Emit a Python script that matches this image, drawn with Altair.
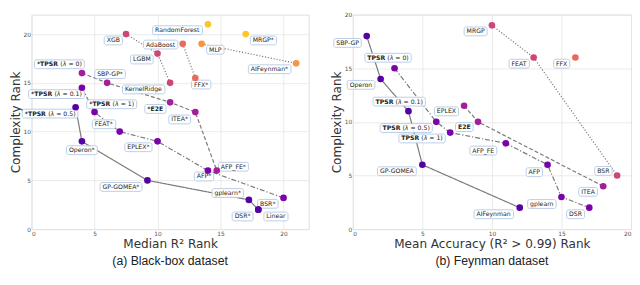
import altair as alt
import pandas as pd

# ---------------- data: (a) Black-box dataset ----------------
bb_names = ["RandomForest", "MRGP*", "XGB", "AdaBoost", "MLP", "LGBM", "AIFeynman*", "FFX*",
            "KernelRidge", "*TPSR (λ = 0)", "SBP-GP*", "*TPSR (λ = 0.1)", "*E2E",
            "*TPSR (λ = 0.5)", "*TPSR (λ = 1)", "ITEA*", "FEAT*", "EPLEX*", "Operon*", "AFP*",
            "AFP_FE*", "GP-GOMEA*", "gplearn*", "BSR*", "DSR*", "Linear"]
bb_r2_rank = [14, 17, 7.5, 12, 13.5, 10, 21, 13, 11, 4, 6, 4, 11, 3.5, 5, 13, 7, 10, 4, 14,
              14.7, 9.2, 17.25, 20, 18, 18]
bb_cx_rank = [21, 20, 20, 19, 19, 18, 17, 15.5, 15, 16, 15, 14.5, 13, 12.5, 12, 12, 10, 9, 9,
              6, 6, 5, 3, 3.2, 2, 2]
bb_front = [7, 7, 4, 5, 6, 4, 6, 5, 4, 3, 3, 2, 3, 1, 2, 3, 2, 2, 1, 2, 3, 1, 1, 2, 1, 1]

# ---------------- data: (b) Feynman dataset ----------------
fy_names = ["MRGP", "SBP-GP", "FEAT", "FFX", "TPSR (λ = 0)", "Operon", "TPSR (λ = 0.1)",
            "EPLEX", "TPSR (λ = 0.5)", "E2E", "TPSR (λ = 1)", "AFP_FE", "GP-GOMEA", "AFP",
            "BSR", "ITEA", "gplearn", "DSR", "AIFeynman"]
fy_acc_rank = [10, 1, 13, 16, 3, 2, 4, 8, 6, 9, 7, 11, 5, 14, 19, 18, 15, 17, 12]
fy_cx_rank = [19, 18, 16, 16, 15, 14, 11, 11.5, 10, 10, 9, 8, 6, 6, 5, 4, 3, 2, 2]
fy_front = [4, 1, 4, 5, 2, 1, 1, 3, 2, 3, 2, 2, 1, 2, 4, 3, 2, 2, 1]

ticks = [0, 5, 10, 15, 20]

# ---------------- styling / label layout ----------------
bb_colors = {1: "#5402a3", 2: "#7b02a8", 3: "#a41e9a", 4: "#cc4778", 5: "#e66c5c",
             6: "#f89540", 7: "#fdc527"}
fy_colors = {1: "#5402a3", 2: "#9c179e", 3: "#d5536f", 4: "#f3844b", 5: "#fdc328"}

# label box centre offsets from the point, in pixels (dx right, dy down)
bb_off = {"RandomForest": (-31, 6), "MRGP*": (18, 6.5), "XGB": (-13, 6.5),
          "AdaBoost": (-22.5, 0.7), "MLP": (14, 6), "LGBM": (-16, 6), "AIFeynman*": (-27, 6),
          "FFX*": (6, 6.7), "KernelRidge": (-27, 6.7), "*TPSR (λ = 0)": (-23, -9),
          "SBP-GP*": (3, -9), "*TPSR (λ = 0.1)": (-26, 6.5), "*E2E": (-15, 6.7),
          "*TPSR (λ = 0.5)": (-26, 6.5), "*TPSR (λ = 1)": (17.5, -8), "ITEA*": (-16, 7.5),
          "FEAT*": (-16, -7.5), "EPLEX*": (-19.5, 6), "Operon*": (0, 9), "AFP*": (-4, 6),
          "AFP_FE*": (17, -4), "GP-GOMEA*": (-27, 6.7), "gplearn*": (-21.5, -7),
          "BSR*": (-16, 6), "DSR*": (-16, 7), "Linear": (18, 7)}
fy_off = {"MRGP": (-16.6, 6.2), "SBP-GP": (-19.6, 7), "FEAT": (-14.7, 6.3), "FFX": (-14, 6.3),
          "TPSR (λ = 0)": (-6.6, -10.7), "Operon": (-20, 6), "TPSR (λ = 0.1)": (-9.4, -9.7),
          "EPLEX": (-18, 5.7), "TPSR (λ = 0.5)": (-30.7, 6.3), "E2E": (-14, 5.3),
          "TPSR (λ = 1)": (-28.7, 6), "AFP_FE": (-23, 7.4), "GP-GOMEA": (-26, 6.6),
          "AFP": (-13.5, 7.6), "BSR": (-14, -4.7), "ITEA": (-15.4, 5.7), "gplearn": (-20, 7.2),
          "DSR": (-14, 6.7), "AIFeynman": (-26.5, 6.7)}

FS = 6.3          # label font size
PAD = 2.5         # label box horizontal padding
BOXH = 9          # label box height
FONT = "DejaVu Sans"
TITLE_FS = 12.3

W_REG = {' ': 0.318, '(': 0.39, ')': 0.39, '*': 0.5, '-': 0.361, '.': 0.318, '_': 0.5,
         '=': 0.838, '0': 0.636, '1': 0.636, '2': 0.636, '5': 0.636,
         'A': 0.684, 'B': 0.686, 'D': 0.77, 'E': 0.632, 'F': 0.575, 'G': 0.775, 'I': 0.295,
         'K': 0.656, 'L': 0.557, 'M': 0.863, 'O': 0.787, 'P': 0.603, 'R': 0.695, 'S': 0.635,
         'T': 0.611, 'X': 0.685, 'a': 0.613, 'b': 0.635, 'c': 0.55, 'd': 0.635, 'e': 0.615,
         'g': 0.635, 'h': 0.634, 'i': 0.278, 'l': 0.278, 'm': 0.974, 'n': 0.634, 'o': 0.612,
         'p': 0.635, 'r': 0.411, 's': 0.521, 't': 0.392, 'u': 0.634, 'y': 0.592, 'λ': 0.6}
W_BOLD = {'*': 0.575, 'T': 0.682, 'P': 0.733, 'S': 0.72, 'R': 0.77, 'E': 0.683, '2': 0.696}


def text_w(s, weight):
    tab = W_BOLD if weight == "bold" else W_REG
    return sum(tab.get(c, W_REG.get(c, 0.62)) for c in s) * FS


def segments(label):
    segs, rest = [], label
    for b in ("*TPSR", "TPSR", "*E2E", "E2E"):
        if label.startswith(b):
            segs.append((b, "bold"))
            rest = label[len(b):]
            break
    if "λ" in rest:
        i = rest.index("λ")
        segs += [(rest[:i], "normal"), ("λ", "italic"), (rest[i + 1:], "normal")]
    elif rest:
        segs.append((rest, "normal"))
    return [s for s in segs if s[0]]


def panel(names, xs, ys, fronts, colors, offsets, dmax, W, H, xtitle, caption, nolines):
    sx, sy = W / dmax, H / dmax
    df = pd.DataFrame({"name": names, "x": xs, "y": ys, "front": fronts})
    style_of = {1: "solid", 2: "dashdot", 3: "dashed"}
    df["style"] = [style_of.get(f, "dotted") for f in df["front"]]
    ldf = df[~df["front"].isin(nolines)]

    boxes, segrows = [], []
    for n, x, y in zip(names, xs, ys):
        dx, dy = offsets[n]
        segs = segments(n)
        tw = sum(text_w(t, w) for t, w in segs)
        bw = tw + 2 * PAD
        cx = x + dx / sx
        cy = y - dy / sy
        boxes.append({"name": n, "bx1": cx - bw / 2 / sx, "bx2": cx + bw / 2 / sx,
                      "by1": cy - BOXH / 2 / sy, "by2": cy + BOXH / 2 / sy})
        cur = -tw / 2
        for t, w in segs:
            lead = len(t) - len(t.lstrip(" "))
            cur += text_w(" " * lead, w)
            t2 = t.strip(" ")
            segrows.append({"t": t2, "w": w, "tx": cx + cur / sx, "ty": cy})
            cur += text_w(t.lstrip(" "), w)
    bdf = pd.DataFrame(boxes)
    sdf = pd.DataFrame(segrows)

    xsc = alt.Scale(domain=[0, dmax], nice=False, zero=False)
    ysc = alt.Scale(domain=[0, dmax], nice=False, zero=False)
    common = dict(values=ticks, grid=True, gridColor="#e6e6e6", gridWidth=0.8, domain=False,
                  ticks=False, labelFontSize=6, labelColor="#555555", labelFont=FONT,
                  titleFont=FONT, titleFontWeight="normal", titleColor="#333333",
                  titleFontSize=TITLE_FS)
    xax = alt.Axis(title=xtitle, labelPadding=2, titlePadding=1, **common)
    yax = alt.Axis(title="Complexity Rank", labelPadding=1, titlePadding=1, **common)

    def X(f):
        return alt.X(f + ":Q", scale=xsc, axis=xax)

    def Y(f):
        return alt.Y(f + ":Q", scale=ysc, axis=yax)

    lines = alt.Chart(ldf).mark_line(color="#7a7a7a", strokeWidth=1.2).encode(
        x=X("x"), y=Y("y"), detail="front:N", order="x:Q",
        strokeDash=alt.StrokeDash("style:N", legend=None, scale=alt.Scale(
            domain=["solid", "dashdot", "dashed", "dotted"],
            range=[[1, 0], [5, 2, 1.3, 2], [4, 2.2], [1.2, 1.8]])))
    rects = alt.Chart(bdf).mark_rect(fill="white", fillOpacity=0.92, stroke="#a9c1e2",
                                     strokeWidth=0.8, cornerRadius=2).encode(
        x=X("bx1"), x2="bx2", y=Y("by1"), y2="by2")
    pts = alt.Chart(df).mark_circle(size=46, opacity=1).encode(
        x=X("x"), y=Y("y"),
        color=alt.Color("front:N", legend=None, scale=alt.Scale(
            domain=list(colors.keys()), range=list(colors.values()))))
    layers = [lines, rects, pts]
    for w in ("bold", "normal", "italic"):
        part = sdf[sdf["w"] == w]
        if len(part) == 0:
            continue
        kw = dict(align="left", baseline="middle", fontSize=FS, font=FONT, color="#222222")
        if w == "bold":
            kw["fontWeight"] = "bold"
        if w == "italic":
            kw["fontStyle"] = "italic"
        layers.append(alt.Chart(part).mark_text(**kw).encode(
            x=X("tx"), y=Y("ty"), text="t:N"))
    return alt.layer(*layers).properties(
        width=W, height=H,
        title=alt.TitleParams(caption, orient="bottom", fontSize=12.5, font="Liberation Sans",
                              fontWeight="normal", color="#222222", offset=5))


left = panel(bb_names, bb_r2_rank, bb_cx_rank, bb_front, bb_colors, bb_off, 22, 283, 219,
             "Median R² Rank", "(a) Black-box dataset", nolines=[7])
right = panel(fy_names, fy_acc_rank, fy_cx_rank, fy_front, fy_colors, fy_off, 20, 284, 219,
              "Mean Accuracy (R² > 0.99) Rank", "(b) Feynman dataset", nolines=[5])

chart = alt.hconcat(left, right, spacing=20).properties(padding=0).configure_view(
    stroke="#222222", strokeWidth=1.3).configure(background="white")

chart.save("out.html", embed_options={"renderer": "svg", "actions": False})
